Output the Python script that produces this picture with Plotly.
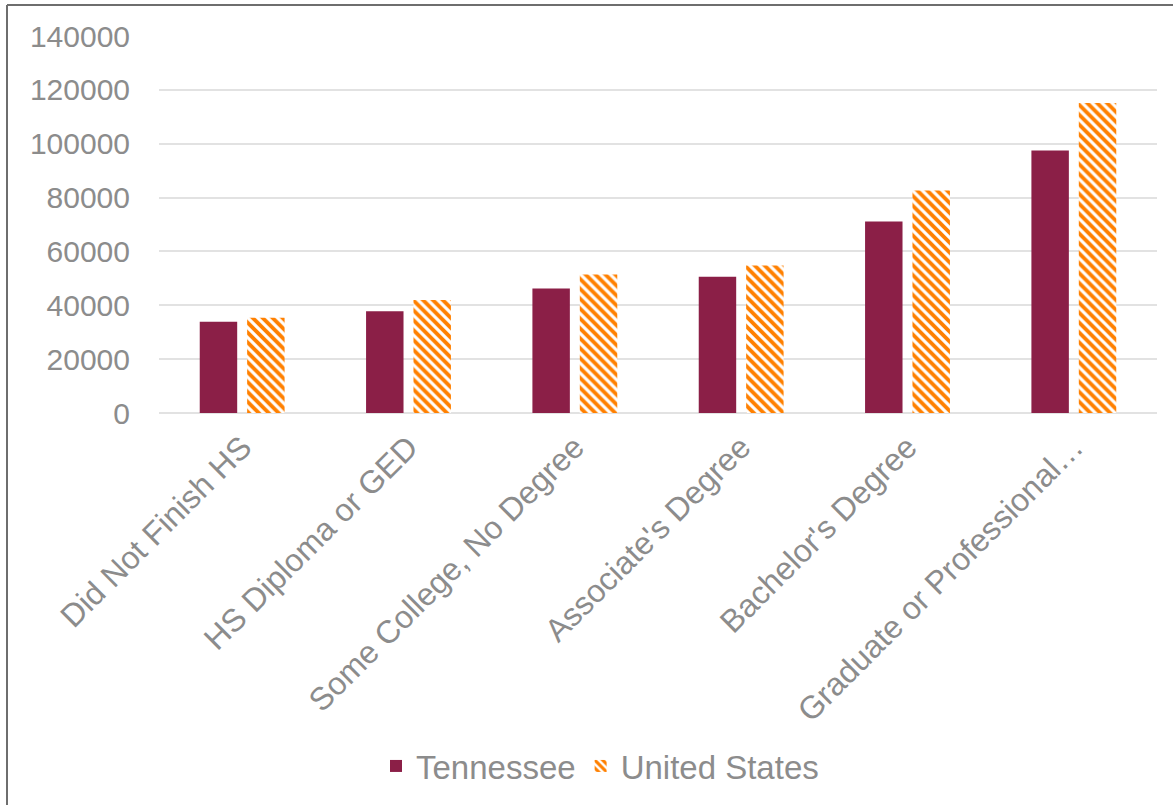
import plotly.graph_objects as go

categories = ["Did Not Finish HS", "HS Diploma or GED", "Some College, No Degree",
              "Associate's Degree", "Bachelor's Degree", "Graduate or Professional…"]
tennessee = [33900, 37800, 46200, 50600, 71100, 97500]
united_states = [35400, 42000, 51400, 54800, 82600, 115100]
y_ticks = [0, 20000, 40000, 60000, 80000, 100000, 120000, 140000]

W, H = 1173, 805
L, R, T, B = 159, 16, 36, 391
pw, ph = W - L - R, H - T - B

def px(x):
    return (x - L) / pw

def py(y):
    return (H - B - y) / ph

GRAY = "#8c8c8c"
FONT = "Liberation Sans, Arial, sans-serif"

fig = go.Figure()
fig.add_trace(go.Bar(
    x=categories, y=tennessee, name="Tennessee",
    marker=dict(color="#8b1f47", line=dict(width=0)),
))
fig.add_trace(go.Bar(
    x=categories, y=united_states, name="United States",
    marker=dict(color="white", line=dict(width=0),
                pattern=dict(shape="\\", fgcolor="#ff8000", bgcolor="white",
                             size=7, solidity=0.55, fillmode="replace",
                             fgopacity=1)),
))

fig.update_layout(
    width=W, height=H,
    margin=dict(l=L, r=R, t=T, b=B),
    paper_bgcolor="white", plot_bgcolor="white",
    barmode="group", bargap=0.43, bargroupgap=0.21,
    font=dict(family=FONT, size=30, color=GRAY),
    showlegend=True,
    legend=dict(orientation="h", x=px(600), xanchor="center",
                y=py(766), yanchor="middle",
                font=dict(family=FONT, size=33, color=GRAY),
                itemwidth=30, bgcolor="rgba(0,0,0,0)"),
    xaxis=dict(showgrid=False, showline=False, ticks="", tickangle=-45,
               ticklabelstandoff=8,
               tickfont=dict(family=FONT, size=32, color=GRAY)),
    yaxis=dict(range=[0, 140000], tickvals=y_ticks, tickformat="d",
               showgrid=True,
               gridcolor="#e2e2e2", gridwidth=2, zeroline=True,
               zerolinecolor="#e2e2e2", zerolinewidth=2, showline=False,
               ticks="", ticklabelstandoff=28,
               tickfont=dict(family=FONT, size=30, color=GRAY)),
    shapes=[
        dict(type="line", xref="paper", yref="paper",
             x0=px(7), x1=px(7), y0=py(5), y1=py(900),
             line=dict(color="#6e6e6e", width=2)),
        dict(type="line", xref="paper", yref="paper",
             x0=px(7), x1=px(1300), y0=py(5), y1=py(5),
             line=dict(color="#6e6e6e", width=2)),
    ],
)

fig.write_html("out.html", config={"displayModeBar": False},
               post_script="document.body.style.margin='0px';document.body.style.padding='0px';")
